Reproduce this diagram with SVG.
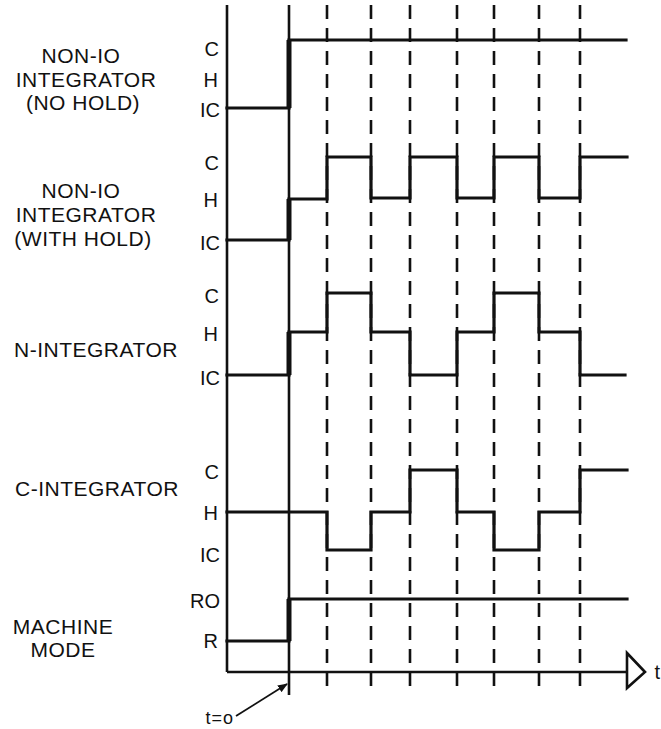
<svg xmlns="http://www.w3.org/2000/svg" width="661" height="729" viewBox="0 0 661 729">
<defs>
<style>
.lbl{font-family:"Liberation Sans",Arial,sans-serif;font-size:21px;letter-spacing:0.5px;fill:#111;text-anchor:middle}
.lv{font-family:"Liberation Sans",Arial,sans-serif;font-size:20px;fill:#111;text-anchor:end}
.wave{fill:none;stroke:#111;stroke-width:3.2;stroke-linejoin:miter;stroke-linecap:square}
.step{stroke:#111;stroke-width:5}
.ax{stroke:#111;stroke-width:2.6;fill:none}
.dash{stroke:#111;stroke-width:2.6;stroke-dasharray:14 9}
</style>
<marker id="ah" markerWidth="10" markerHeight="8" refX="9" refY="4" orient="auto" markerUnits="userSpaceOnUse" viewBox="0 0 10 8">
<path d="M0,0 L10,4 L0,8 Z" fill="#111"/>
</marker>
</defs>
<rect width="661" height="729" fill="#fff"/>

<g id="axes">
<line class="ax" x1="227" y1="5" x2="227" y2="672"/>
<line class="ax" x1="289" y1="5" x2="289" y2="695"/>
<line class="ax" x1="227" y1="672" x2="627" y2="672"/>
<path d="M627,653 L645,672 L627,688 Z" fill="#fff" stroke="#111" stroke-width="2.6" stroke-linejoin="miter"/>
<text class="lv" x="660" y="679">t</text>
</g>

<g id="gridlines">
<line class="dash" x1="327" y1="5" x2="327" y2="692"/>
<line class="dash" x1="371" y1="5" x2="371" y2="692"/>
<line class="dash" x1="410" y1="5" x2="410" y2="692"/>
<line class="dash" x1="457" y1="5" x2="457" y2="692"/>
<line class="dash" x1="494" y1="5" x2="494" y2="692"/>
<line class="dash" x1="539" y1="5" x2="539" y2="692"/>
<line class="dash" x1="580" y1="5" x2="580" y2="692"/>
</g>

<g id="row-nonio-nohold">
<text class="lbl" x="81" y="63">NON-IO</text>
<text class="lbl" x="86" y="87">INTEGRATOR</text>
<text class="lbl" x="83" y="110">(NO HOLD)</text>
<text class="lv" x="219" y="56">C</text>
<text class="lv" x="218" y="87">H</text>
<text class="lv" x="220" y="117">IC</text>
<polyline class="wave" points="227,108 289,108 289,40 626,40"/>
<line class="step" x1="289" y1="108" x2="289" y2="40"/>
</g>

<g id="row-nonio-withhold">
<text class="lbl" x="81" y="198">NON-IO</text>
<text class="lbl" x="86" y="222">INTEGRATOR</text>
<text class="lbl" x="83" y="246">(WITH HOLD)</text>
<text class="lv" x="219" y="170">C</text>
<text class="lv" x="218" y="207">H</text>
<text class="lv" x="220" y="250">IC</text>
<polyline class="wave" points="227,240 289,240 289,199 327,199 327,157 371,157 371,198 410,198 410,157 457,157 457,198 494,198 494,157 539,157 539,198 580,198 580,157 627,157"/>
<line class="step" x1="289" y1="240" x2="289" y2="199"/>
</g>

<g id="row-n-integrator">
<text class="lbl" x="96" y="357">N-INTEGRATOR</text>
<text class="lv" x="219" y="303">C</text>
<text class="lv" x="218" y="341">H</text>
<text class="lv" x="220" y="385">IC</text>
<polyline class="wave" points="227,375 289,375 289,332 327,332 327,293 371,293 371,332 410,332 410,375 457,375 457,332 494,332 494,293 539,293 539,332 580,332 580,375 625,375"/>
<line class="step" x1="289" y1="375" x2="289" y2="332"/>
</g>

<g id="row-c-integrator">
<text class="lbl" x="97" y="496">C-INTEGRATOR</text>
<text class="lv" x="219" y="479">C</text>
<text class="lv" x="218" y="520">H</text>
<text class="lv" x="220" y="562">IC</text>
<polyline class="wave" points="227,512 327,512 327,550 371,550 371,512 410,512 410,470 457,470 457,512 494,512 494,550 539,550 539,512 580,512 580,470 627,470"/>
</g>

<g id="row-machine-mode">
<text class="lbl" x="63" y="634">MACHINE</text>
<text class="lbl" x="63" y="657">MODE</text>
<text class="lv" x="220" y="608">RO</text>
<text class="lv" x="218" y="648">R</text>
<polyline class="wave" points="227,641 289,641 289,599 627,599"/>
<line class="step" x1="289" y1="641" x2="289" y2="599"/>
</g>

<g id="t0-label">
<text class="lv" x="234" y="724" style="font-size:18px;letter-spacing:1px">t=o</text>
<line x1="236" y1="716" x2="287" y2="684" stroke="#111" stroke-width="1.8" marker-end="url(#ah)"/>
</g>
</svg>
